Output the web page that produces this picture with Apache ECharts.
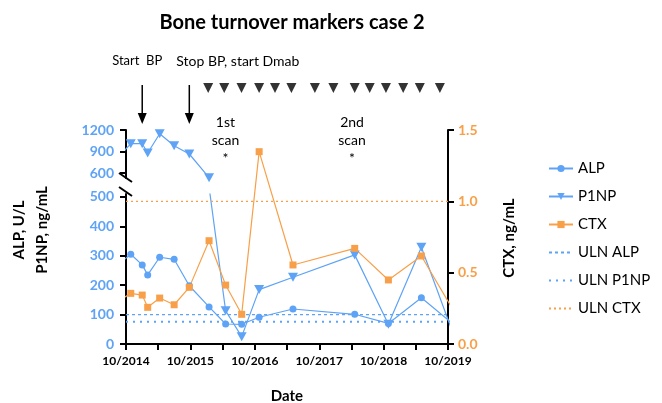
<!DOCTYPE html>
<html>
<head>
<meta charset="utf-8">
<script src="https://cdn.jsdelivr.net/npm/echarts@6/dist/echarts.min.js"></script>
<style>
  html, body { margin: 0; background: #fff; }
  #chart { width: 662px; height: 403px; }
</style>
</head>
<body>
<div id="chart"></div>
<script>
// sample dates (first and last fall just outside the axis range and are clipped)
const dates = ['2014-09-01', '2014-10-28', '2015-01-01', '2015-02-01', '2015-04-10', '2015-07-01', '2015-09-25',
  '2016-01-15', '2016-04-18', '2016-07-18', '2016-10-25', '2017-05-05', '2018-04-20', '2018-10-28', '2019-05-03', '2019-10-15']
const alp = [277, 305, 269, 235, 295, 288, 198, 126, 68, 67, 91, 119, 101, 70, 157, 75]
const p1np = [855, 1009, 1009, 879, 1148, 981, 865, 534, 113, 25, 185, 227, 303, 67, 329, 60]
const ctx = [0.31, 0.355, 0.343, 0.257, 0.322, 0.275, 0.397, 0.724, 0.413, 0.208, 1.348, 0.554, 0.67, 0.449, 0.617, 0.27]

const ulnAlp = 100
const ulnP1np = 76
const ulnCtx = 1.0

// injections and events
const dmabDates = ['2016-01-10', '2016-04-10', '2016-07-17', '2016-10-25', '2017-01-23', '2017-04-26', '2017-09-06',
  '2017-12-20', '2018-04-20', '2018-07-14', '2018-10-14', '2019-01-20', '2019-04-24', '2019-08-16']
const startBP = '2015-01-01'
const stopBP = '2015-09-25'
const scanDates = ['2016-04-17', '2018-04-05']
const scanLabels = ['1st\nscan\n*', '2nd\nscan\n*']

const xMin = '2014-10-01'
const xMax = '2019-10-01'
const xLabelDates = ['2014-10-01', '2015-10-01', '2016-10-01', '2017-10-01', '2018-10-01', '2019-10-01']
const xTickDates = ['2014-10-01', '2015-04-01', '2015-10-01', '2016-04-01', '2016-10-01', '2017-04-01', '2017-10-01',
  '2018-04-01', '2018-10-01', '2019-04-01', '2019-10-01']
const upperTicks = [600, 900, 1200]
const lowerTicks = [0, 100, 200, 300, 400, 500]

const blue = '#5ea3f5'
const orange = '#f8a049'
const font = 'Lato'

const ts = d => Date.parse(d + 'T00:00:00Z')
const pairs = (xs, ys) => xs.map((d, i) => [ts(d), ys[i]])

const chart = echarts.init(document.getElementById('chart'))

const hiddenX = i => ({
  type: 'value', gridIndex: i, min: ts(xMin), max: ts(xMax), show: false, splitLine: { show: false }
})
const axisLine = { show: true, lineStyle: { color: '#000', width: 2 } }
const noSymbol = name => ({ name: name, itemStyle: { opacity: 0 } })

chart.setOption({
  animation: false,
  textStyle: { fontFamily: font },
  title: {
    text: 'Bone turnover markers case 2',
    left: 287, top: 8, textAlign: 'center',
    textStyle: { fontSize: 20, fontWeight: 'bold', color: '#000', fontFamily: font }
  },
  legend: {
    orient: 'vertical',
    left: 543, top: 156,
    itemWidth: 24, itemHeight: 9, itemGap: 13,
    data: ['ALP', 'P1NP', 'CTX', noSymbol('ULN ALP'), noSymbol('ULN P1NP'), noSymbol('ULN CTX')],
    textStyle: { fontSize: 15, color: '#000', fontFamily: font }
  },
  grid: [
    { left: 126, right: 214, top: 130, height: 214 },
    { left: 126, right: 214, top: 130, height: 48 },
    { left: 126, right: 214, top: 194, height: 150 },
    { left: 126, right: 214, top: 80, height: 16 }
  ],
  xAxis: [
    {
      type: 'value', gridIndex: 0, min: ts(xMin), max: ts(xMax),
      axisLine: axisLine,
      splitLine: { show: false },
      axisTick: { show: true, length: 6, lineStyle: { color: '#000', width: 2 }, customValues: xTickDates.map(ts) },
      axisLabel: {
        customValues: xLabelDates.map(ts),
        formatter: v => { const d = new Date(v); return (d.getUTCMonth() + 1) + '/' + d.getUTCFullYear() },
        color: '#000', fontWeight: 'bold', fontSize: 12, margin: 11, fontFamily: font
      }
    },
    hiddenX(1), hiddenX(2), hiddenX(3)
  ],
  yAxis: [
    {
      type: 'value', gridIndex: 0, position: 'right', min: 0, max: 1.5, interval: 0.5,
      axisLine: axisLine, splitLine: { show: false },
      axisTick: { show: true, length: 6, lineStyle: { color: '#000', width: 2 } },
      axisLabel: { formatter: v => v.toFixed(1), color: orange, fontWeight: 'bold', fontSize: 14, margin: 10, fontFamily: font }
    },
    {
      type: 'value', gridIndex: 1, min: 530, max: 1200,
      axisLine: axisLine, splitLine: { show: false },
      axisTick: { show: true, length: 6, lineStyle: { color: '#000', width: 2 }, customValues: upperTicks },
      axisLabel: { customValues: upperTicks, formatter: v => String(v), color: blue, fontWeight: 'bold', fontSize: 14, margin: 12, fontFamily: font }
    },
    {
      type: 'value', gridIndex: 2, min: 0, max: 510,
      axisLine: axisLine, splitLine: { show: false },
      axisTick: { show: true, length: 6, lineStyle: { color: '#000', width: 2 }, customValues: lowerTicks },
      axisLabel: { customValues: lowerTicks, formatter: v => String(v), color: blue, fontWeight: 'bold', fontSize: 14, margin: 12, fontFamily: font }
    },
    { type: 'value', gridIndex: 3, min: 0, max: 1, show: false }
  ],
  series: [
    {
      name: 'ALP', type: 'line', xAxisIndex: 2, yAxisIndex: 2,
      data: pairs(dates, alp),
      symbol: 'circle', symbolSize: 7,
      itemStyle: { color: blue }, lineStyle: { color: blue, width: 1.2 }
    },
    {
      name: 'P1NP', type: 'line', xAxisIndex: 1, yAxisIndex: 1,
      data: pairs(dates, p1np).slice(0, 8),
      symbol: 'triangle', symbolRotate: 180, symbolSize: [10, 9],
      itemStyle: { color: blue }, lineStyle: { color: blue, width: 1.2 }
    },
    {
      name: 'P1NP', type: 'line', xAxisIndex: 2, yAxisIndex: 2,
      data: pairs(dates, p1np).slice(7),
      symbol: 'triangle', symbolRotate: 180, symbolSize: [10, 9],
      itemStyle: { color: blue }, lineStyle: { color: blue, width: 1.2 }
    },
    {
      name: 'CTX', type: 'line', xAxisIndex: 0, yAxisIndex: 0,
      data: pairs(dates, ctx),
      symbol: 'rect', symbolSize: 7,
      itemStyle: { color: orange }, lineStyle: { color: orange, width: 1.2 }
    },
    {
      name: 'ULN ALP', type: 'line', xAxisIndex: 2, yAxisIndex: 2,
      data: [[ts(xMin), ulnAlp], [ts(xMax), ulnAlp]],
      symbol: 'none', itemStyle: { color: blue },
      lineStyle: { color: blue, width: 1.3, type: [3, 3] }
    },
    {
      name: 'ULN P1NP', type: 'line', xAxisIndex: 2, yAxisIndex: 2,
      data: [[ts(xMin), ulnP1np], [ts(xMax), ulnP1np]],
      symbol: 'none', itemStyle: { color: blue },
      lineStyle: { color: blue, width: 2, type: [2, 5] }
    },
    {
      name: 'ULN CTX', type: 'line', xAxisIndex: 0, yAxisIndex: 0,
      data: [[ts(xMin), ulnCtx], [ts(xMax), ulnCtx]],
      symbol: 'none', itemStyle: { color: orange },
      lineStyle: { color: orange, width: 1.2, type: [2, 3] }
    },
    {
      name: 'Dmab', type: 'scatter', xAxisIndex: 3, yAxisIndex: 3,
      data: dmabDates.map(d => [ts(d), 0.5]),
      symbol: 'triangle', symbolRotate: 180, symbolSize: [10, 10],
      itemStyle: { color: '#000' }, silent: true
    }
  ]
})

// annotations placed from dates through the x axis
const px = d => chart.convertToPixel({ xAxisIndex: 0 }, ts(d))
const arrow = (x) => [
  { type: 'line', shape: { x1: x, y1: 85, x2: x, y2: 116 }, style: { stroke: '#000', lineWidth: 1.5 } },
  { type: 'polygon', shape: { points: [[x - 4.5, 113], [x + 4.5, 113], [x, 124]] }, style: { fill: '#000' } }
]
const txt = (x, y, text, extra) => ({
  type: 'text', x: x, y: y,
  style: Object.assign({ text: text, fill: '#000', font: '13px ' + font, align: 'center', verticalAlign: 'middle' }, extra || {})
})
const graphics = [
  ...arrow(px(startBP)), ...arrow(px(stopBP)),
  txt(px(startBP) - 5, 61, 'Start  BP'),
  txt(px(stopBP) - 13, 61, 'Stop BP, start Dmab', { align: 'left', font: '14px ' + font }),
  ...scanDates.map((d, i) => txt(px(d), 140, scanLabels[i], { lineHeight: 18, font: '14px ' + font })),
  { type: 'line', shape: { x1: 119, y1: 173, x2: 132, y2: 182 }, style: { stroke: '#000', lineWidth: 2 } },
  { type: 'line', shape: { x1: 119, y1: 187, x2: 132, y2: 196 }, style: { stroke: '#000', lineWidth: 2 } },
  txt(287, 396, 'Date', { font: 'bold 15px ' + font }),
  Object.assign(txt(31, 230, 'ALP, U/L\nP1NP, ng/mL', { font: 'bold 15px ' + font, lineHeight: 23 }), { rotation: Math.PI / 2 }),
  Object.assign(txt(509, 238, 'CTX, ng/mL', { font: 'bold 15px ' + font }), { rotation: Math.PI / 2 })
]
chart.setOption({ graphic: graphics })
</script>
</body>
</html>
